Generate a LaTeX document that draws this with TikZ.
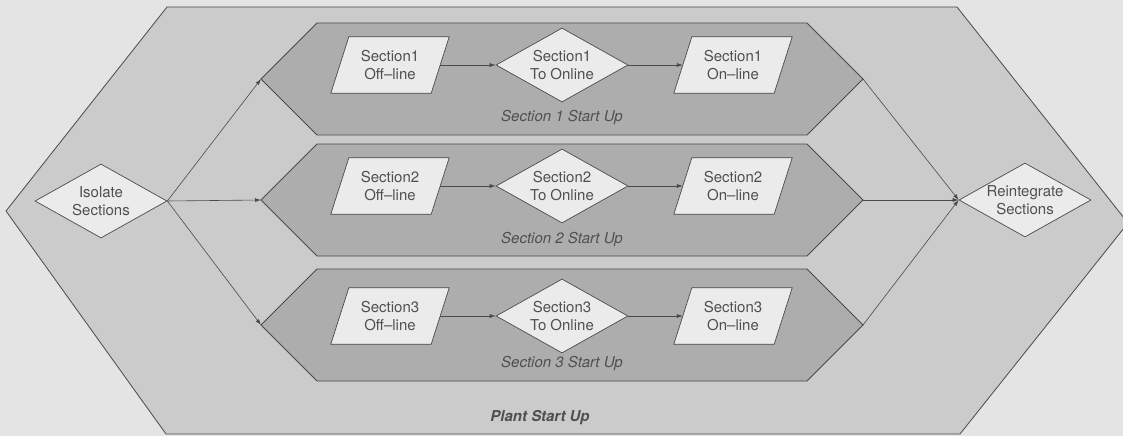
\documentclass[tikz,border=0pt]{standalone}
\usepackage{fontspec}
\setmainfont{TeX Gyre Heros}
\usetikzlibrary{shapes.geometric,arrows.meta}
\definecolor{bgc}{HTML}{E4E4E4}
\definecolor{outerc}{HTML}{CBCBCB}
\definecolor{innerc}{HTML}{ADADAD}
\definecolor{nodec}{HTML}{EBEBEB}
\definecolor{linec}{HTML}{4A4A4A}
\definecolor{txtc}{HTML}{505050}
\tikzset{
  every node/.style={font=\fontsize{15}{18}\selectfont, text=txtc},
  hexouter/.style={draw=linec, fill=outerc, line width=0.8pt, line join=miter},
  hexinner/.style={draw=linec, fill=innerc, line width=0.8pt, line join=miter},
  diamondbox/.style={diamond, draw=linec, fill=nodec, line width=0.7pt,
    minimum width=132pt, minimum height=74pt, inner sep=0pt},
  parabox/.style={rectangle, minimum width=100pt, minimum height=56pt, inner sep=0pt},
  parashape/.style={draw=linec, fill=nodec, line width=0.7pt, line join=miter},
  txt/.style={align=center, inner sep=0pt},
  lbl/.style={font=\fontsize{15}{18}\selectfont\itshape},
  plantlbl/.style={font=\fontsize{15}{18}\selectfont\bfseries\itshape},
  flow/.style={draw=linec, line width=0.6pt, -{Latex[length=6pt,width=4pt]}}
}
\newcommand{\paradraw}[1]{%
  \draw[parashape] ([xshift=-9pt]#1.south west) -- ([xshift=9pt]#1.north west)
    -- ([xshift=9pt]#1.north east) -- ([xshift=-9pt]#1.south east) -- cycle;}
\begin{document}
\begin{tikzpicture}[x=1pt,y=-1pt]
\useasboundingbox (0,0) rectangle (1123,436);
\clip (0,0) rectangle (1123,436);
\fill[bgc] (0,0) rectangle (1123,436);
\draw[hexouter] (167,7) -- (957,7) -- (1128,223) -- (960,434) -- (166,434) -- (6,211) -- cycle;
\foreach \i/\t/\m/\b in {1/23/79/135, 2/144/200/256, 3/269/325/381} {
  \draw[hexinner] (261,\m) coordinate (s\i w) -- (317,\t) -- (807,\t) -- (863,\m) coordinate (s\i e) -- (807,\b) -- (317,\b) -- cycle;
}
\foreach \i/\y/\ly in {1/65/117, 2/186/239, 3/316/363} {
  \node[parabox] (off\i) at (390,\y) {};
  \paradraw{off\i}
  \node[txt] (offt\i) at (off\i) {Section\i\\Off--line};
  \node[diamondbox] (to\i) at (562,\y) {};
  \node[txt] (tot\i) at (to\i) {Section\i\\To Online};
  \node[parabox] (on\i) at (733,\y) {};
  \paradraw{on\i}
  \node[txt] (ont\i) at (on\i) {Section\i\\On--line};
  \draw[flow] (off\i.east) -- (to\i.west);
  \draw[flow] (to\i.east) -- (on\i.west);
  \node[lbl] (lab\i) at (562,\ly) {Section \i\ Start Up};
}
\node[diamondbox] (iso) at (101,201) {};
\node[txt] (isot) at (iso) {Isolate\\Sections};
\node[diamondbox] (rei) at (1025,200) {};
\node[txt] (reit) at (rei) {Reintegrate\\Sections};
\draw[flow] (iso.east) -- (s1w);
\draw[flow] (iso.east) -- (s2w);
\draw[flow] (iso.east) -- (s3w);
\draw[flow] (s1e) -- (rei.west);
\draw[flow] (s2e) -- (rei.west);
\draw[flow] (s3e) -- (rei.west);
\node[plantlbl] (plant) at (540,418) {Plant Start Up};
\end{tikzpicture}
\end{document}
